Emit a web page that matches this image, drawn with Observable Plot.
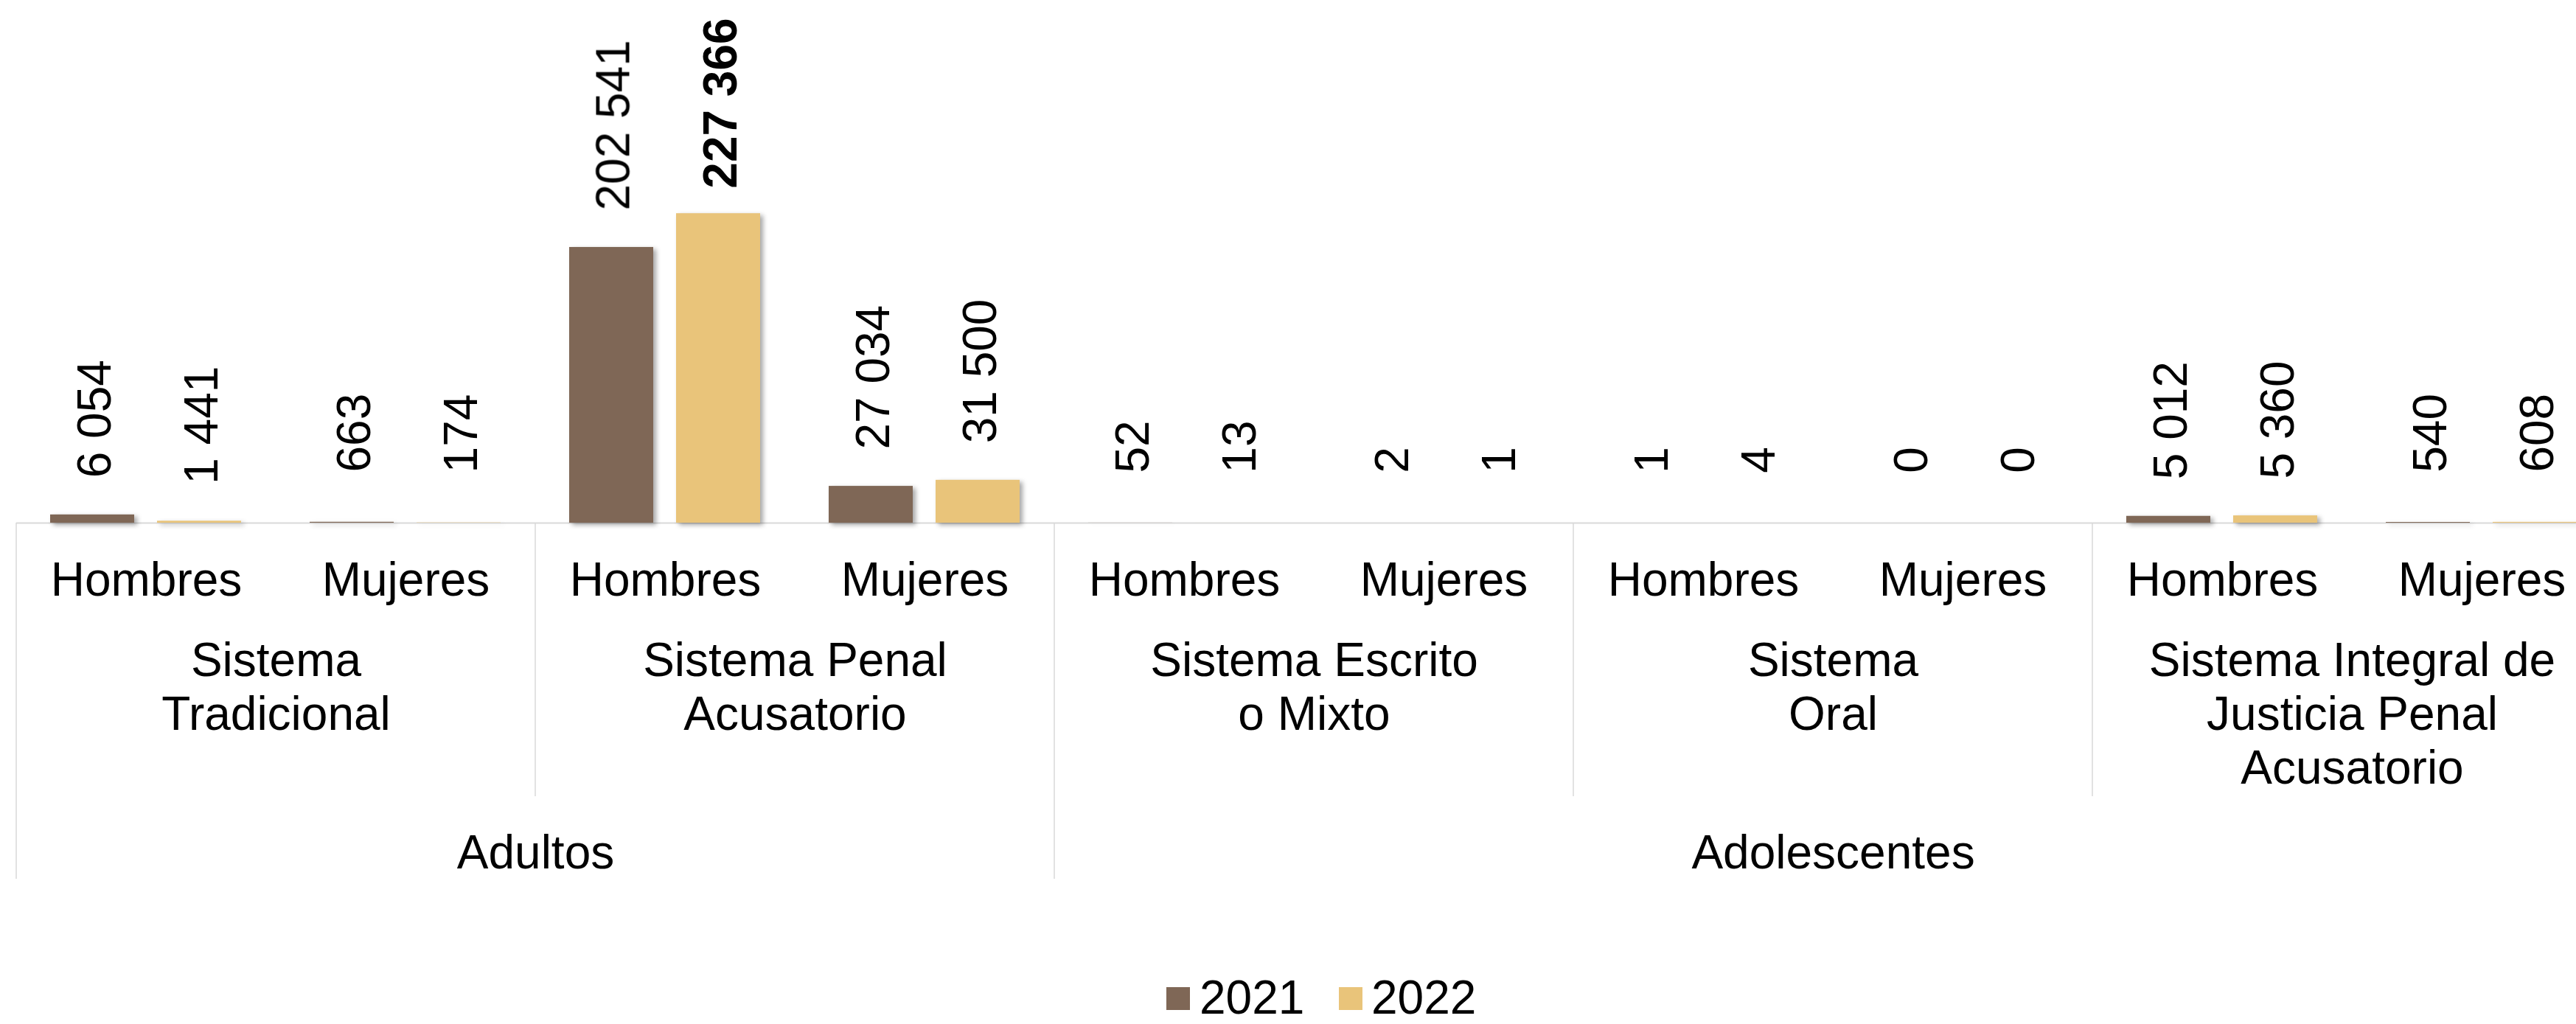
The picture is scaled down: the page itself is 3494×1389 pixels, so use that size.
<!DOCTYPE html>
<html>
<head>
<meta charset="utf-8">
<script src="https://cdn.jsdelivr.net/npm/d3@7"></script>
<script src="https://cdn.jsdelivr.net/npm/@observablehq/plot@0.6"></script>
<style>
  html, body { margin: 0; padding: 0; background: #fff; overflow: hidden; }
  #chart svg { overflow: hidden; display: block; }
  #legend { position: relative; height: 89px; font-family: "Liberation Sans", Arial, sans-serif; font-size: 64px; line-height: 44px; color: #000; }
  #legend .sw { position: absolute; width: 32px; height: 31px; }
  #legend .lb { position: absolute; white-space: pre; height: 44px; }
</style>
</head>
<body>
<div id="chart"></div>
<div id="legend"></div>
<script>
// ---- data ----
const groups = ["Adultos", "Adolescentes"];
const systems = [
  "Sistema\nTradicional",
  "Sistema Penal\nAcusatorio",
  "Sistema Escrito\no Mixto",
  "Sistema\nOral",
  "Sistema Integral de\nJusticia Penal\nAcusatorio"
];
const systemGroup = ["Adultos", "Adultos", "Adolescentes", "Adolescentes", "Adolescentes"];
const sexes = ["Hombres", "Mujeres"];
const years = ["2021", "2022"];
const values2021 = [6054, 663, 202541, 27034, 52, 2, 1, 0, 5012, 540];
const values2022 = [1441, 174, 227366, 31500, 13, 1, 4, 0, 5360, 608];
const yearColors = ["#7F6756", "#E9C47A"];

// ---- derived tables ----
const cats = systems.flatMap((s, si) => sexes.map(sex => ({key: si + "|" + sex, system: si, sex})));
const rows = cats.flatMap((c, ci) => [
  {key: c.key, year: years[0], value: values2021[ci]},
  {key: c.key, year: years[1], value: values2022[ci]}
]);
const maxV = d3.max(rows, d => d.value);
const fmt = v => (v < 1000 ? " " : "") + d3.format(",")(v).replace(/,/g, " ");

// system labels anchored at the right edge of the first (Hombres) category
const sysLabels = systems.map((s, si) => ({key: si + "|" + sexes[0], label: s}));
// group labels anchored at right edge of middle category (even counts)
const grpLabels = groups.map(g => {
  const idx = cats.map((c, i) => i).filter(i => systemGroup[cats[i].system] === g);
  const mid = idx[idx.length / 2 - 1];
  return {key: cats[mid].key, label: g};
});

const W = 3494, H = 1300, BASE = 709;
const font = '"Liberation Sans", Arial, sans-serif';

const plot = Plot.plot({
  width: W,
  height: H,
  marginLeft: 22,
  marginRight: -48,
  marginTop: 0,
  marginBottom: H - BASE,
  fx: {domain: cats.map(c => c.key), padding: 0, range: [22, 3542], axis: null},
  x: {domain: years, paddingInner: 0.212, paddingOuter: 0.312, axis: null},
  y: {domain: [0, 384000], axis: null},
  color: {domain: years, range: yearColors},
  style: {fontFamily: font, fontSize: "64px", color: "#000", background: "#fff"},
  marks: [
    Plot.ruleY([0], {stroke: "#d9d9d9", strokeWidth: 2}),
    Plot.barY(rows, {fx: "key", x: "year", y: "value", fill: "year"}),
    Plot.text(rows.filter(d => d.value !== maxV), {
      fx: "key", x: "year", y: "value", text: d => fmt(d.value),
      rotate: -90, textAnchor: "start", dy: -50, dx: 4, fill: "#000", fontSize: 64
    }),
    Plot.text(rows.filter(d => d.value === maxV), {
      fx: "key", x: "year", y: "value", text: d => fmt(d.value),
      rotate: -90, textAnchor: "start", dy: -34, dx: 4, fill: "#000", fontSize: 64, fontWeight: "bold"
    }),
    Plot.text(cats, {
      fx: "key", text: "sex", frameAnchor: "bottom", lineAnchor: "top", dy: 53, fill: "#000", fontSize: 64
    }),
    Plot.text(sysLabels, {
      fx: "key", text: "label", frameAnchor: "bottom-right", textAnchor: "middle",
      lineAnchor: "top", dy: 156, lineHeight: 1.14, fill: "#000", fontSize: 64
    }),
    Plot.text(grpLabels, {
      fx: "key", text: "label", frameAnchor: "bottom-right", textAnchor: "middle",
      lineAnchor: "top", dy: 423, fill: "#000", fontSize: 64
    })
  ]
});

// bar shadows
d3.select(plot).selectAll('g[aria-label="bar"]').style("filter", "drop-shadow(4px 3px 3px rgba(0,0,0,0.35))");

// divider lines using Plot's fx scale
const fxs = plot.scale("fx");
const band = d3.scaleBand(fxs.domain, fxs.range).padding(0);
const divs = [];
systems.forEach((s, si) => {
  const first = cats.find(c => c.system === si);
  const long = si === 0 || systemGroup[si] !== systemGroup[si - 1];
  divs.push({x: band(first.key), long});
});
divs.push({x: band(cats[cats.length - 1].key) + band.bandwidth(), long: true});
d3.select(plot).append("g").attr("aria-label", "dividers")
  .selectAll("line").data(divs).join("line")
  .attr("x1", d => d.x).attr("x2", d => d.x)
  .attr("y1", BASE).attr("y2", d => d.long ? 1192 : 1080)
  .attr("stroke", "#d9d9d9").attr("stroke-width", 1.5);

document.getElementById("chart").appendChild(plot);

// legend
const legend = document.getElementById("legend");
const swLeft = [1582, 1816], lbLeft = [1627, 1860];
years.forEach((y, i) => {
  const sw = document.createElement("div");
  sw.className = "sw";
  sw.style.left = swLeft[i] + "px";
  sw.style.top = "39px";
  sw.style.background = yearColors[i];
  legend.appendChild(sw);
  const lb = document.createElement("div");
  lb.className = "lb";
  lb.style.left = lbLeft[i] + "px";
  lb.style.top = "31px";
  lb.textContent = y;
  legend.appendChild(lb);
});
</script>
</body>
</html>
